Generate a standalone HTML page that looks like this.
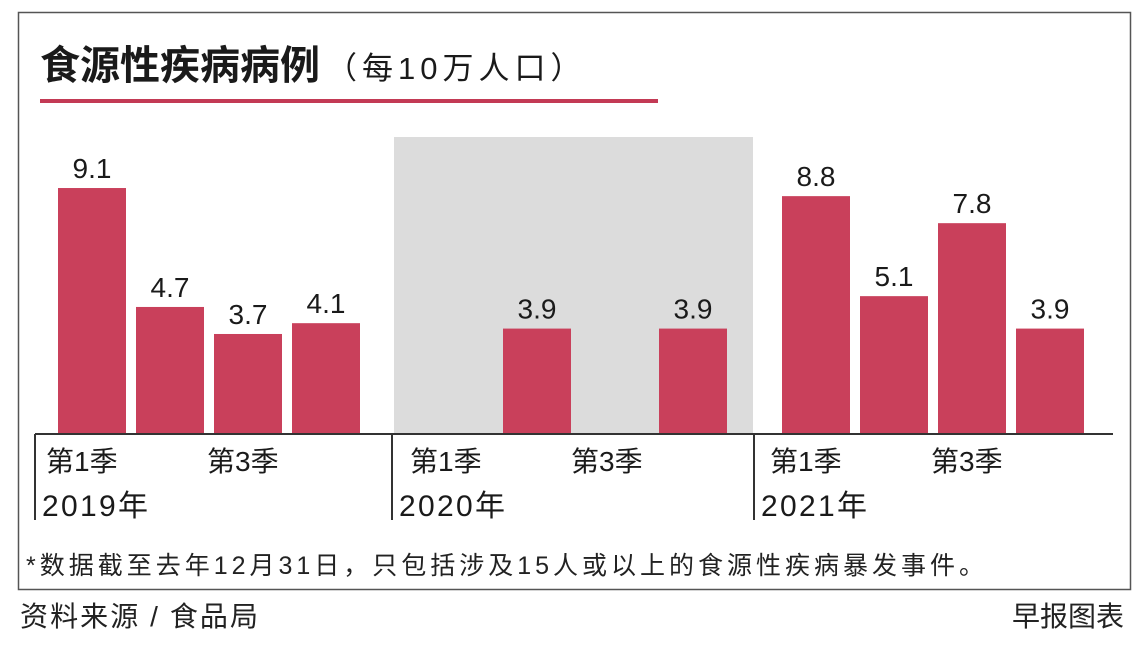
<!DOCTYPE html>
<html><head><meta charset="utf-8"><style>
body{margin:0;width:1140px;height:653px;background:#fff;overflow:hidden;font-family:"Liberation Sans","Noto Sans CJK SC",sans-serif;}
svg text{font-family:"Liberation Sans","Noto Sans CJK SC",sans-serif;}
</style></head><body>
<svg width="1140" height="653">
<rect x="18.5" y="12.5" width="1112" height="577" fill="#fff" stroke="#555" stroke-width="1.5"/>
<text x="40" y="79" font-size="40" font-weight="bold" fill="#1a1a1a">食源性疾病病例<tspan font-size="31" font-weight="normal" dx="6" letter-spacing="5">（每10万人口）</tspan></text>
<rect x="40" y="99" width="618" height="4" fill="#c33a55"/>
<rect x="394" y="137" width="359" height="297" fill="#dcdcdc"/>
<g id="bars"></g>
<line x1="35" y1="434" x2="1113" y2="434" stroke="#333" stroke-width="2"/>
<g id="axis"></g>
<text x="26" y="574" font-size="25" textLength="958" lengthAdjust="spacing" fill="#222">*数据截至去年12月31日，只包括涉及15人或以上的食源性疾病暴发事件。</text>
<text x="20" y="626" font-size="28" textLength="238" lengthAdjust="spacing" fill="#222">资料来源 / 食品局</text>
<text x="1124" y="626" font-size="28" text-anchor="end" fill="#222">早报图表</text>
</svg>
<script>
const years=["2019年","2020年","2021年"];
const quarterLabels=["第1季","第3季"];
const values=[[9.1,4.7,3.7,4.1],[null,3.9,null,3.9],[8.8,5.1,7.8,3.9]];
const labels=[["9.1","4.7","3.7","4.1"],[null,"3.9",null,"3.9"],["8.8","5.1","7.8","3.9"]];
const NS="http://www.w3.org/2000/svg";
const base=434, ppu=27.03;
const groupStart=[58,425,782];
const y=v=>base-v*ppu;
const x=(g,q)=>groupStart[g]+q*78;
const bars=document.getElementById('bars'), axis=document.getElementById('axis');
function mk(tag,at,parent){const e=document.createElementNS(NS,tag);for(const k in at)e.setAttribute(k,at[k]);parent.appendChild(e);return e;}
values.forEach((row,g)=>{row.forEach((v,q)=>{if(v==null)return;
 const r=mk('rect',{x:x(g,q),y:y(v),width:68,height:base-y(v),fill:'#c9405b'},bars);
 
 
 const t=mk('text',{x:x(g,q)+34,y:y(v)-10,'font-size':28,'text-anchor':'middle',fill:'#1a1a1a'},bars);
 t.textContent=labels[g][q];
 
 
});});
const seps=[35,392,754];
years.forEach((yr,g)=>{
 const l=mk('line',{x1:seps[g],y1:434,x2:seps[g],y2:520,stroke:'#333','stroke-width':2},axis);
 
 
 quarterLabels.forEach((ql,i)=>{
  const t=mk('text',{x:x(g,i*2)-12-(g==1?3:0)+i*5,y:471,'font-size':28,fill:'#1a1a1a'},axis);
  t.textContent=ql;
  
  
 });
 const t=mk('text',{x:seps[g]+7,y:516,'font-size':30,textLength:106,lengthAdjust:'spacing',fill:'#1a1a1a'},axis);
 t.textContent=yr;
 
 
});
</script>
</body></html>
